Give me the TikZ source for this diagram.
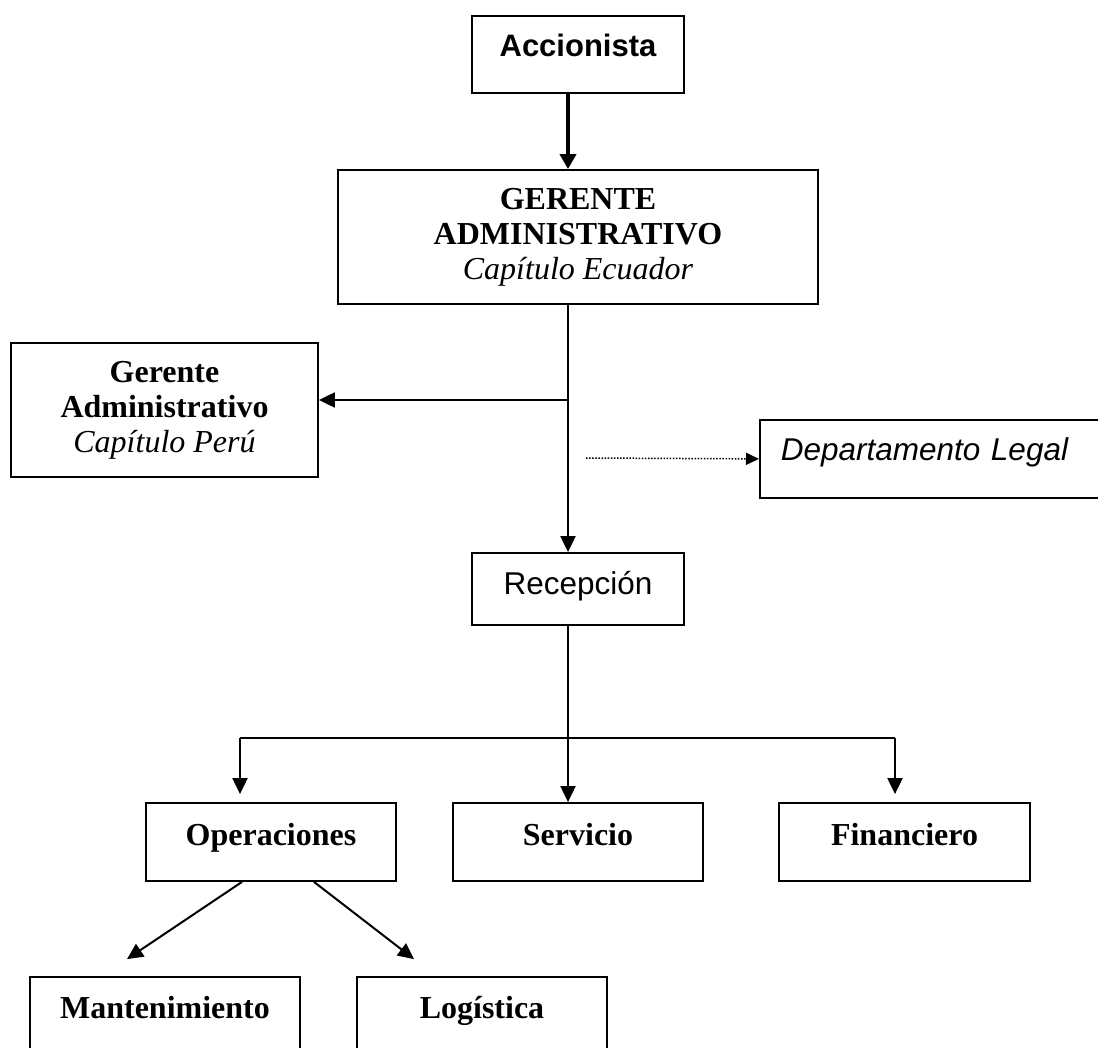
\documentclass[tikz,border=0pt]{standalone}
\usepackage{fontspec}
\setmainfont{Liberation Serif}
\newfontfamily\arialfont{Liberation Sans}
\usetikzlibrary{arrows.meta}

\tikzset{
  box/.style={draw, line width=1.8pt, inner sep=0pt, align=center},
  serifbold/.style={font=\fontsize{32}{35}\selectfont\bfseries},
  rowbox/.style={box, serifbold, minimum width=250pt, text height=42pt, text depth=36pt},
  conn/.style={line width=2pt},
  arr/.style={conn, -{Triangle[length=16pt,width=15pt]}},
  bigarr/.style={line width=4pt, -{Triangle[length=15pt,width=16pt]}},
  dotarr/.style={line width=1.5pt, dash pattern=on 1.5pt off 1.6pt, -{Triangle[length=13pt,width=12pt]}},
}

\begin{document}
\begin{tikzpicture}[x=1pt, y=-1pt]
\useasboundingbox (0,0) rectangle (1098,1048);

% boxes
\node[box, minimum width=212pt, text height=41pt, text depth=36pt,
  font=\arialfont\bfseries\fontsize{31}{36}\selectfont] (acc) at (578,54.5) {Accionista};
\node[box, serifbold, minimum width=480pt, minimum height=134pt] (ger) at (578,237)
  {GERENTE\\ADMINISTRATIVO\\{\mdseries\itshape Capítulo Ecuador}};
\node[box, serifbold, minimum width=307pt, minimum height=134pt] (peru) at (164.5,410)
  {Gerente\\Administrativo\\{\mdseries\itshape Capítulo Perú}};
\node[box, anchor=north west, inner xsep=21pt, text width=330pt, align=left,
  text height=41pt, text depth=37pt,
  font=\arialfont\itshape\fontsize{31.5}{35}\selectfont] (legal) at (759,419) {Departamento Legal};
\node[box, minimum width=212pt, text height=41pt, text depth=31pt,
  font=\arialfont\fontsize{31.5}{35}\selectfont] (rec) at (578,589) {Recepción};

\node[rowbox] (op) at (271,842) {Operaciones};
\node[rowbox] (serv) at (578,842) {Servicio};
\node[rowbox, minimum width=251pt] (fin) at (904.5,842) {Financiero};
\node[rowbox, minimum width=270pt, text height=41pt, text depth=60pt] (mant) at (165,1027.5) {Mantenimiento};
\node[rowbox, text height=41pt, text depth=60pt] (log) at (482,1027.5) {Logística};

% connectors
\coordinate (spine) at (568,0);
\coordinate (jp) at (568,400);
\coordinate (dl) at (586,458);
\coordinate (bl) at (240,738);
\coordinate (br) at (895,738);

\draw[bigarr] (acc.south -| spine) -- (ger.north -| spine);
\draw[arr] (ger.south -| spine) -- (rec.north -| spine);
\draw[arr] (jp) -- (jp -| peru.east);
\draw[dotarr] (dl) -- (legal.west);

\draw[arr] (rec.south -| spine) -- (serv.north -| spine);
\draw[conn] (bl) -- (br);
\draw[arr, shorten >=8pt] (bl) -- (bl |- op.north);
\draw[arr, shorten >=8pt] (br) -- (br |- fin.north);

\draw[arr] ([xshift=-29pt]op.south) -- ([xshift=-38pt, yshift=17pt]mant.north);
\draw[arr] ([xshift=43pt]op.south) -- ([xshift=-68pt, yshift=17pt]log.north);
\end{tikzpicture}
\end{document}
